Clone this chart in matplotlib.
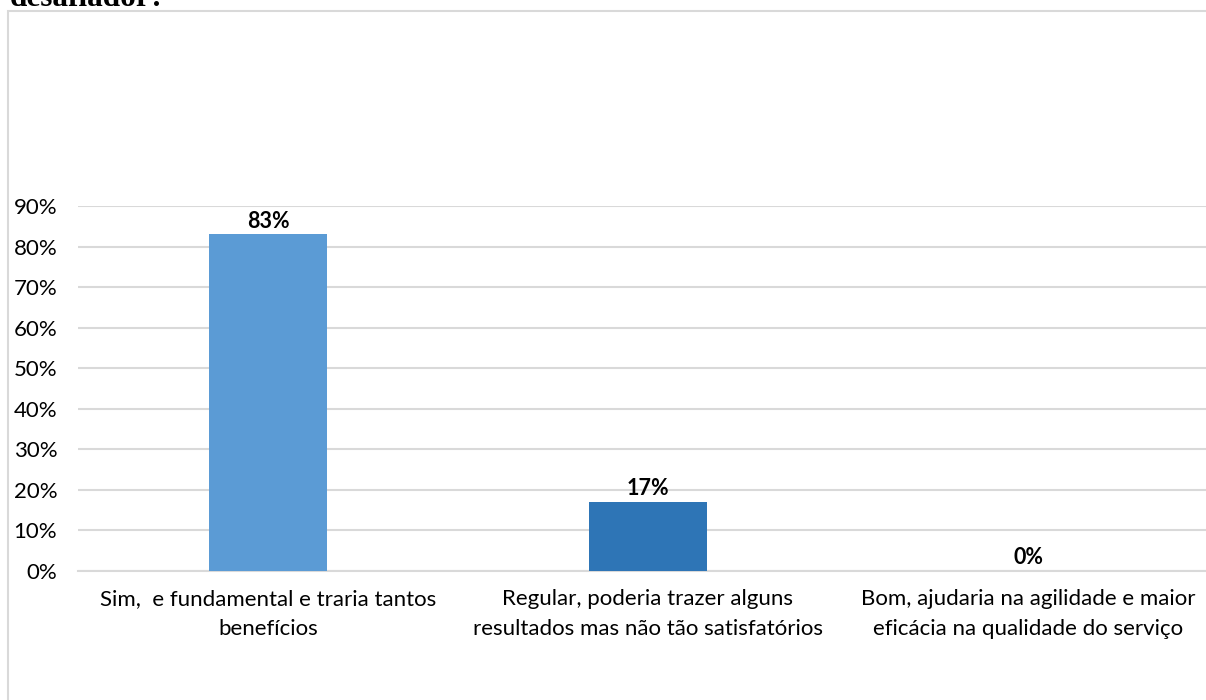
import matplotlib.pyplot as plt
from matplotlib.patches import Rectangle
from matplotlib.ticker import PercentFormatter

plt.rcParams['font.family'] = ['Lato', 'DejaVu Sans']

categories = [
    "Sim,  e fundamental e traria tantos\nbenefícios",
    "Regular, poderia trazer alguns\nresultados mas não tão satisfatórios",
    "Bom, ajudaria na agilidade e maior\neficácia na qualidade do serviço",
]
values = [0.83, 0.17, 0.0]
labels = ["83%", "17%", "0%"]
colors = ["#5B9BD5", "#2E75B6", "#2E75B6"]
yticks = [0, 0.1, 0.2, 0.3, 0.4, 0.5, 0.6, 0.7, 0.8, 0.9]

W, H = 1206, 700
fig = plt.figure(figsize=(W / 100, H / 100), dpi=100)

# chart frame (cropped at the right and bottom in the original)
fig.patches.append(Rectangle((8 / W, -0.1), 1.2, (H - 11) / H + 0.1,
                             transform=fig.transFigure, fill=False,
                             edgecolor="#D9D9D9", linewidth=1.5))

# title cut off at top
fig.text(10 / W, (H - 6) / H, "desafiador?", family="Liberation Serif",
         fontweight="bold", fontsize=22.5, ha="left", va="baseline")

ax = fig.add_axes([78 / W, 129 / H, 1140 / W, 365 / H])
x = range(len(values))
bars = ax.bar(x, values, width=0.313, color=colors, zorder=3)

for b, v, lab in zip(bars, values, labels):
    ax.annotate(lab, (b.get_x() + b.get_width() / 2, v), xytext=(0, 2),
                textcoords="offset points", ha="center", va="bottom",
                fontsize=15.5, fontweight="bold")

ax.set_xlim(-0.5, 2.5)
ax.set_ylim(0, 0.9)
ax.set_yticks(yticks)
ax.yaxis.set_major_formatter(PercentFormatter(1.0, decimals=0))
ax.set_xticks(list(x))
ax.tick_params(axis="both", length=0, labelsize=16, colors="#000000")
ax.set_xticklabels(categories, fontsize=16, linespacing=1.6)
ax.tick_params(axis="y", pad=15)
ax.tick_params(axis="x", pad=13)

ax.grid(axis="y", color="#D9D9D9", linewidth=1.5, zorder=0)
for s in ["top", "right", "left"]:
    ax.spines[s].set_visible(False)
ax.spines["bottom"].set_color("#D9D9D9")
ax.spines["bottom"].set_linewidth(1.5)

fig.savefig("out.png", dpi=100)
